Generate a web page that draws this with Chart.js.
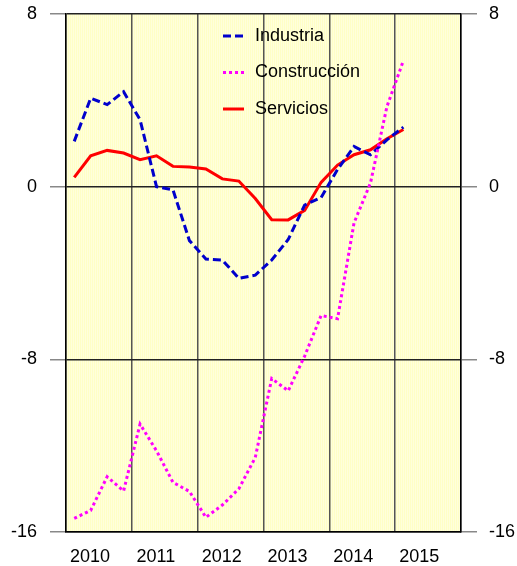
<!DOCTYPE html>
<html>
<head>
<meta charset="utf-8">
<script src="https://cdn.jsdelivr.net/npm/chart.js@4"></script>
<style>
  html, body { margin: 0; padding: 0; background: #fff; }
  #wrap { width: 517px; height: 566px; }
</style>
</head>
<body>
<div id="wrap"><canvas id="chart" width="517" height="566"></canvas></div>
<script>
// quarterly series, 2010 T1 .. 2015 T1
const quarters = ['2010T1','2010T2','2010T3','2010T4','2011T1','2011T2','2011T3','2011T4',
  '2012T1','2012T2','2012T3','2012T4','2013T1','2013T2','2013T3','2013T4',
  '2014T1','2014T2','2014T3','2014T4','2015T1'];
const years = ['2010', '2011', '2012', '2013', '2014', '2015'];
const yTicks = [-16, -8, 0, 8];

const industria = [2.1, 4.1, 3.8, 4.4, 3.1, 0.0, -0.15, -2.5, -3.35, -3.4, -4.25, -4.1,
  -3.4, -2.45, -0.85, -0.5, 0.8, 1.86, 1.48, 2.17, 2.76];
const construccion = [-15.37, -15.0, -13.44, -14.1, -11.0, -12.24, -13.7, -14.12, -15.32, -14.75, -14.0, -12.55,
  -8.89, -9.46, -7.85, -5.97, -6.12, -1.68, 0.17, 3.71, 5.84];
const servicios = [0.43, 1.43, 1.68, 1.56, 1.25, 1.43, 0.94, 0.91, 0.82, 0.36, 0.26, -0.55,
  -1.53, -1.54, -1.1, 0.2, 1.0, 1.48, 1.71, 2.22, 2.65];

// each quarter sits in the middle of its slot on a 0..24 axis
function toPoints(values) {
  return values.map((v, i) => ({ x: i + 0.5, y: v }));
}

Chart.defaults.font.family = '"Liberation Sans", Arial, sans-serif';
Chart.defaults.font.size = 18;
Chart.defaults.color = '#000';

// striped pale yellow plot background
const plotBackground = {
  id: 'plotBackground',
  beforeDraw(chart) {
    const { ctx, chartArea: a } = chart;
    const p = document.createElement('canvas');
    p.width = 2; p.height = 2;
    const pc = p.getContext('2d');
    pc.fillStyle = '#FFFFC6'; pc.fillRect(0, 0, 1, 2);
    pc.fillStyle = '#FFFFDC'; pc.fillRect(1, 0, 1, 2);
    ctx.save();
    ctx.fillStyle = ctx.createPattern(p, 'repeat');
    ctx.fillRect(a.left, a.top, a.right - a.left, a.bottom - a.top);
    ctx.restore();
  }
};

// legend drawn inside the plot, upper middle
const innerLegend = {
  id: 'innerLegend',
  afterDraw(chart) {
    const { ctx } = chart;
    const rows = [36, 72.5, 109];
    ctx.save();
    ctx.font = '18px "Liberation Sans", Arial, sans-serif';
    ctx.textBaseline = 'middle';
    chart.data.datasets.forEach((ds, i) => {
      const y = rows[i];
      ctx.beginPath();
      ctx.strokeStyle = ds.borderColor;
      ctx.lineWidth = ds.borderWidth;
      ctx.setLineDash(ds.borderDash || []);
      ctx.moveTo(223, y);
      ctx.lineTo(244, y);
      ctx.stroke();
      ctx.setLineDash([]);
      ctx.fillStyle = '#000';
      ctx.fillText(ds.label, 255, y);
    });
    ctx.restore();
  }
};

function fixY(width) {
  return function(scale) {
    scale.width = width;
    scale.paddingTop = 0;
    scale.paddingBottom = 0;
  };
}

new Chart(document.getElementById('chart').getContext('2d'), {
  type: 'line',
  data: {
    datasets: [{
      label: 'Industria',
      data: toPoints(industria),
      borderColor: '#0000CC',
      borderWidth: 3,
      borderDash: [8, 4],
      pointRadius: 0,
      tension: 0,
      order: 1
    }, {
      label: 'Construcción',
      data: toPoints(construccion),
      borderColor: '#FF00FF',
      borderWidth: 3,
      borderDash: [3, 3],
      pointRadius: 0,
      tension: 0,
      order: 0
    }, {
      label: 'Servicios',
      data: toPoints(servicios),
      borderColor: '#FF0000',
      borderWidth: 3,
      pointRadius: 0,
      tension: 0,
      order: 2
    }]
  },
  options: {
    responsive: false,
    animation: false,
    layout: { padding: { top: 14, left: 0, right: 0, bottom: 0 } },
    plugins: { legend: { display: false }, tooltip: { enabled: false } },
    scales: {
      x: {
        type: 'linear',
        min: 0,
        max: 24,
        afterBuildTicks(scale) {
          scale.ticks = [0, 4, 8, 12, 16, 20, 24].map(v => ({ value: v }));
        },
        afterFit(scale) { scale.height = 34; },
        ticks: {
          autoSkip: false,
          maxRotation: 0,
          padding: 14,
          labelOffset: 24,
          callback: v => years[v / 4] || ''
        },
        grid: { color: '#555', lineWidth: 1.5, drawTicks: false },
        border: { color: '#000', width: 1.5 }
      },
      y: {
        position: 'left',
        min: -16,
        max: 8,
        afterBuildTicks(scale) {
          scale.ticks = yTicks.map(v => ({ value: v }));
        },
        afterFit: fixY(66),
        ticks: { padding: 13 },
        grid: { color: '#222', lineWidth: 1.5, tickLength: 16, tickColor: '#888' },
        border: { color: '#000', width: 1.5 }
      },
      y2: {
        position: 'right',
        min: -16,
        max: 8,
        afterBuildTicks(scale) {
          scale.ticks = yTicks.map(v => ({ value: v }));
        },
        afterFit: fixY(56),
        ticks: { padding: 12 },
        grid: { drawOnChartArea: false, tickLength: 16, tickColor: '#888', lineWidth: 1.5 },
        border: { color: '#000', width: 1.5 }
      }
    }
  },
  plugins: [plotBackground, innerLegend]
});
</script>
</body>
</html>
